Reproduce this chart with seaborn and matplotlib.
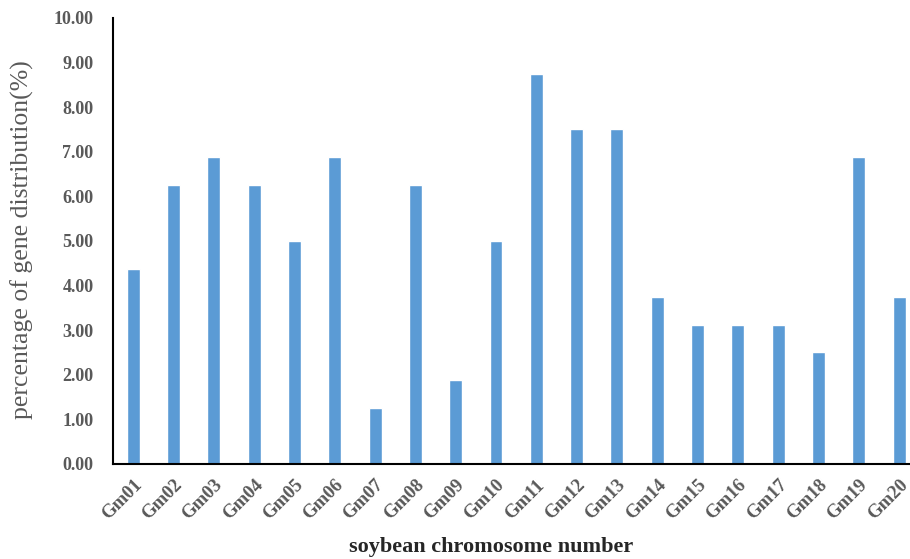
import matplotlib
matplotlib.use("Agg")
import matplotlib.pyplot as plt
import seaborn as sns
import pandas as pd

chromosomes = ["Gm01", "Gm02", "Gm03", "Gm04", "Gm05", "Gm06", "Gm07", "Gm08", "Gm09", "Gm10",
               "Gm11", "Gm12", "Gm13", "Gm14", "Gm15", "Gm16", "Gm17", "Gm18", "Gm19", "Gm20"]
percentages = [4.375, 6.25, 6.875, 6.25, 5.0, 6.875, 1.25, 6.25, 1.875, 5.0,
               8.75, 7.5, 7.5, 3.75, 3.125, 3.125, 3.125, 2.5, 6.875, 3.75]
y_ticks = [0, 1, 2, 3, 4, 5, 6, 7, 8, 9, 10]

sns.set_style("white")
plt.rcParams['font.family'] = ['Liberation Serif', 'DejaVu Serif']

df = pd.DataFrame({"chrom": chromosomes, "pct": percentages})

fig = plt.figure(figsize=(9.1, 5.59), dpi=100)
ax = fig.add_axes([0.1242, 0.170, 0.886, 0.798])
sns.barplot(data=df, x="chrom", y="pct", color="#5B9BD5", width=0.32, ax=ax, saturation=1)

ax.set_xlim(-0.5, 19.5)
ax.set_ylim(0, 10)
ax.set_yticks(y_ticks)
ax.set_yticklabels([f"{v:.2f}" for v in y_ticks], fontsize=13, fontweight="bold", color="#595959")
ax.set_xticks(range(len(chromosomes)))
ax.set_xticklabels(chromosomes, rotation=45, ha="right", rotation_mode="anchor",
                   fontsize=13.5, fontweight="bold", color="#595959")
ax.tick_params(axis="y", length=0, pad=14)
ax.tick_params(axis="x", length=0, pad=9)

for s in ["top", "right"]:
    ax.spines[s].set_visible(False)
for s in ["left", "bottom"]:
    ax.spines[s].set_color("black")
    ax.spines[s].set_linewidth(1.5)

ax.set_xlabel("")
ax.set_ylabel("")
fig.text(491 / 910, 1 - 547 / 559, "soybean chromosome number", fontsize=16, fontweight="bold",
         color="#262626", ha="center", va="center")
fig.text(22 / 910, 1 - 240 / 559, "percentage of gene distribution(%)", fontsize=18.5,
         color="#595959", ha="center", va="center", rotation=90)

fig.savefig("out.png", dpi=100)
